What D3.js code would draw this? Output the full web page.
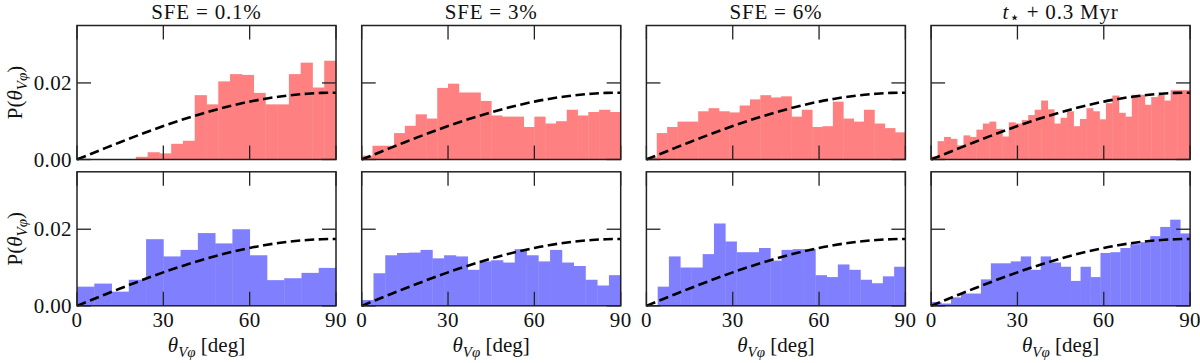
<!DOCTYPE html>
<html><head><meta charset="utf-8">
<script src="https://cdn.jsdelivr.net/npm/d3@7"></script>
<style>
body{margin:0;background:#fff}
svg{display:block}
</style>
</head><body>
<svg id="chart" width="1200" height="363"></svg>
<script>
// ---- data ----
const columnTitles = ["SFE = 0.1%", "SFE = 3%", "SFE = 6%", "t* + 0.3 Myr"];
const xTickValues = [0, 30, 60, 90];
const yTickValues = [0, 0.02];
const yTickLabels = ["0.00", "0.02"];

// top row (red) histograms, equal-width bins over 0–90 deg
const redSFE01 = [0,0,0,0,0,0.0007,0.0019,0.0016,0.0041,0.0049,0.0168,0.0144,0.0204,0.0223,0.0221,0.0174,0.0144,0.0144,0.0223,0.0253,0.0188,0.0258];
const redSFE3  = [0.001,0.0036,0.0036,0.0069,0.0088,0.0118,0.0107,0.0187,0.0198,0.0175,0.0175,0.0153,0.0115,0.0112,0.0112,0.0085,0.0112,0.0094,0.0100,0.0130,0.0115,0.0124,0.0130,0.0124];
const redSFE6  = [0.0005,0.0069,0.0085,0.0099,0.0099,0.0126,0.0134,0.0126,0.0123,0.0141,0.0157,0.0168,0.0162,0.0165,0.0112,0.0130,0.0085,0.0087,0.0151,0.0107,0.0099,0.0130,0.0094,0.0082,0.0071];
const redT03   = [0.0008,0.0048,0.0059,0.0054,0.0037,0.0063,0.0059,0.0078,0.0094,0.0099,0.0080,0.0060,0.0097,0.0094,0.0103,0.0116,0.0130,0.0154,0.0131,0.0094,0.0109,0.0126,0.0087,0.0106,0.0134,0.0126,0.0105,0.0147,0.0167,0.0122,0.0112,0.0169,0.0169,0.0143,0.0163,0.0169,0.0154,0.0181,0.0181,0.0181];

// bottom row (blue) histograms
const blueSFE01 = [0.0050,0.0058,0.0037,0.0068,0.0174,0.0129,0.0146,0.0190,0.0163,0.0200,0.0132,0.0067,0.0072,0.0086,0.0099];
const blueSFE3  = [0.0015,0.0085,0.0132,0.0138,0.0139,0.0146,0.0124,0.0132,0.0129,0.0094,0.0116,0.0119,0.0113,0.0148,0.0132,0.0116,0.0146,0.0113,0.0104,0.0068,0.0053,0.0080];
const blueSFE6  = [0.0002,0.0050,0.0129,0.0100,0.0100,0.0135,0.0215,0.0168,0.0140,0.0140,0.0151,0.0118,0.0146,0.0148,0.0148,0.0080,0.0075,0.0108,0.0094,0.0068,0.0059,0.0077,0.0102];
const blueT03   = [0.0010,0.0006,0.0022,0.0032,0.0032,0.0069,0.0111,0.0111,0.0116,0.0129,0.0094,0.0129,0.0113,0.0102,0.0065,0.0102,0.0075,0.0138,0.0140,0.0151,0.0161,0.0166,0.0182,0.0206,0.0225,0.0189];

// dashed reference curve (isotropic expectation), read at 5-deg steps
const curveTheta = [0,5,10,15,20,25,30,35,40,45,50,55,60,65,70,75,80,85,90];
const curveP = [0,0.00152,0.00303,0.00452,0.00597,0.00738,0.00873,0.01001,0.01122,0.01234,0.01337,0.01430,0.01512,0.01582,0.01640,0.01686,0.01719,0.01739,0.01745];

const topRow = [redSFE01, redSFE3, redSFE6, redT03];
const bottomRow = [blueSFE01, blueSFE3, blueSFE6, blueT03];

// ---- layout ----
const FONT = "'Liberation Serif', 'DejaVu Serif', serif";
const svg = d3.select("#chart").attr("font-family", FONT);
const left0 = 77, colStep = 284.7, pw = 259;
const rowTops = [25.5, 171.8], ph = 134;
const tickLen = 14;
const fillColors = ["#ff8080", "#8080ff"];
const frameColor = "#222";
const textColor = "#111";

const x = d3.scaleLinear().domain([0, 90]).range([0, pw]);
const y = d3.scaleLinear().domain([0, 0.035]).range([ph, 0]);

function addText(g) {
  return g.append("text").attr("font-family", FONT).attr("fill", textColor).attr("font-size", 21);
}

function drawPanel(vals, col, row) {
  const g = svg.append("g").attr("transform", `translate(${left0 + col*colStep},${rowTops[row]})`);
  const n = vals.length, bw = 90 / n;
  g.append("g").selectAll("rect").data(vals).join("rect")
    .attr("x", (d, i) => x(i*bw))
    .attr("width", (d, i) => x((i+1)*bw) - x(i*bw) + 0.4)
    .attr("y", d => y(d))
    .attr("height", d => y(0) - y(d))
    .attr("fill", fillColors[row]);

  const line = d3.line().x((d, i) => x(curveTheta[i])).y(d => y(d)).curve(d3.curveMonotoneX);
  g.append("path").attr("d", line(curveP))
    .attr("fill", "none").attr("stroke", "#000").attr("stroke-width", 2.6)
    .attr("stroke-dasharray", "9.5,4.5");

  // inward ticks on all four sides
  const ticks = g.append("g").attr("stroke", frameColor).attr("stroke-width", 1.3);
  xTickValues.forEach(t => {
    ticks.append("line").attr("x1", x(t)).attr("x2", x(t)).attr("y1", ph).attr("y2", ph - tickLen);
    ticks.append("line").attr("x1", x(t)).attr("x2", x(t)).attr("y1", 0).attr("y2", tickLen);
  });
  yTickValues.forEach(t => {
    ticks.append("line").attr("x1", 0).attr("x2", tickLen).attr("y1", y(t)).attr("y2", y(t));
    ticks.append("line").attr("x1", pw).attr("x2", pw - tickLen).attr("y1", y(t)).attr("y2", y(t));
  });

  g.append("rect").attr("x", 0).attr("y", 0).attr("width", pw).attr("height", ph)
    .attr("fill", "none").attr("stroke", frameColor).attr("stroke-width", 1.5);

  if (col === 0) {
    yTickValues.forEach((t, i) => {
      addText(g).attr("x", -5).attr("y", y(t)).attr("text-anchor", "end")
        .attr("dominant-baseline", "central").attr("letter-spacing", 0.4).text(yTickLabels[i]);
    });
    const yl = addText(g)
      .attr("transform", `translate(${22 - left0},${ph/2}) rotate(-90)`)
      .attr("text-anchor", "middle");
    yl.append("tspan").text("P(");
    yl.append("tspan").attr("font-style", "italic").text("θ");
    yl.append("tspan").attr("font-style", "italic").attr("font-size", 15).attr("dy", 5).text("Vφ");
    yl.append("tspan").attr("dy", -5).text(")");
  }
  if (row === 1) {
    xTickValues.forEach(t => {
      addText(g).attr("x", x(t)).attr("y", ph + 21).attr("text-anchor", "middle").attr("letter-spacing", 0.4).text(t);
    });
    const xl = addText(g).attr("x", pw/2).attr("y", ph + 46).attr("text-anchor", "middle");
    xl.append("tspan").attr("font-style", "italic").text("θ");
    xl.append("tspan").attr("font-style", "italic").attr("font-size", 15).attr("dy", 5).text("Vφ");
    xl.append("tspan").attr("dy", -5).text(" [deg]");
  }
  if (row === 0) {
    const tt = addText(g).attr("x", pw/2).attr("y", -7).attr("text-anchor", "middle")
      .attr("letter-spacing", 0.8);
    if (col < 3) {
      tt.text(columnTitles[col]);
    } else {
      tt.append("tspan").attr("font-style", "italic").text("t");
      tt.append("tspan").attr("font-size", 17).attr("dy", 4).attr("font-family", "DejaVu Sans").text("⋆");
      tt.append("tspan").attr("dy", -4).text(" + 0.3 Myr");
    }
  }
}

topRow.forEach((v, c) => drawPanel(v, c, 0));
bottomRow.forEach((v, c) => drawPanel(v, c, 1));
</script>
</body></html>
